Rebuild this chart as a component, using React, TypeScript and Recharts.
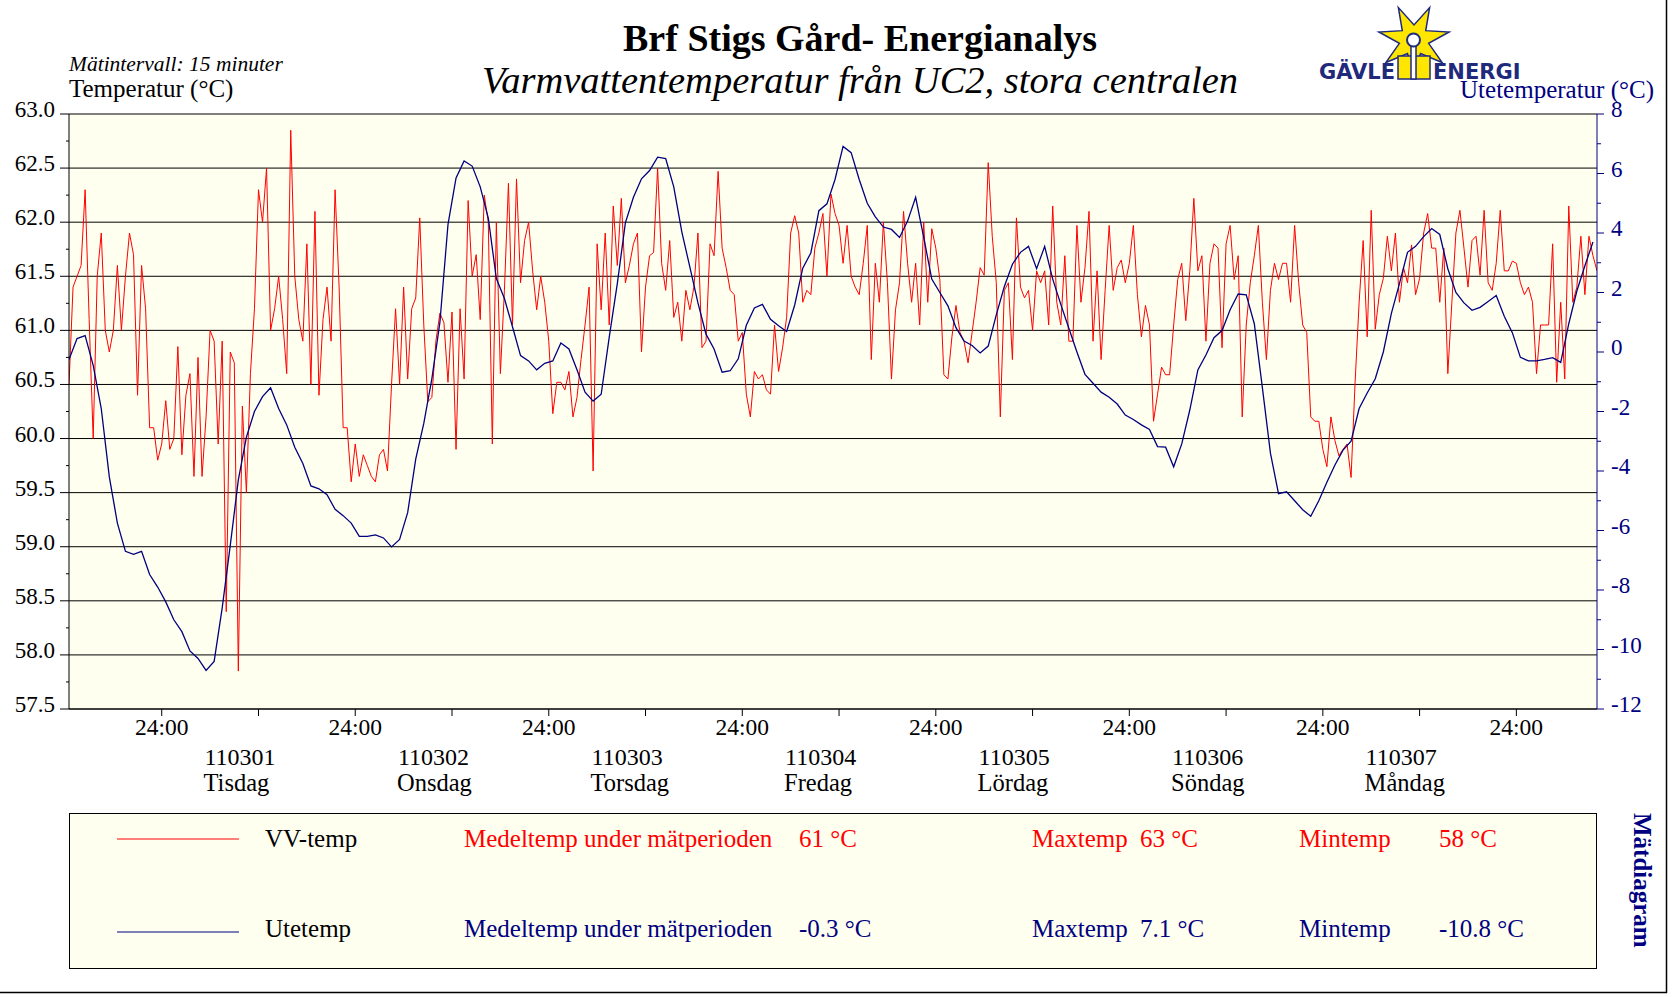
import { LineChart, Line, XAxis, YAxis, CartesianGrid, ReferenceLine } from 'recharts'

const SERIF = "'Liberation Serif', 'Times New Roman', serif"
const NAVY = '#000080'
const RED = '#ff0000'
const BG = '#fffff0'
const LOGO_BLUE = '#1f2a7c'

// time in hours from 110301 00:00
const vvStart = -11.5
const vvStep = 0.5
// VV-temp (°C), one value per half hour
const vvTemp = [
  60.5, 61.4, 61.5, 61.6, 62.3, 61.1, 60.0, 61.5, 61.9, 61.0,
  60.8, 61.0, 61.6, 61.0, 61.5, 61.9, 61.7, 60.4, 61.6, 61.2,
  60.1, 60.1, 59.8, 59.95, 60.35, 59.9, 60.0, 60.85, 59.85, 60.4,
  60.6, 59.65, 60.75, 59.65, 60.2, 61.0, 60.9, 59.95, 60.9, 58.4,
  60.8, 60.7, 57.85, 60.3, 59.5, 60.6, 61.2, 62.3, 62.0, 62.5,
  61.0, 61.2, 61.5, 61.1, 60.6, 62.85, 61.5, 61.1, 60.9, 61.8,
  60.5, 62.1, 60.4, 61.1, 61.4, 60.9, 62.3, 61.4, 60.1, 60.1,
  59.6, 59.95, 59.65, 59.85, 59.75, 59.65, 59.6, 59.85, 59.9, 59.7,
  60.5, 61.2, 60.5, 61.4, 60.55, 61.2, 61.3, 62.04, 61.05, 60.34,
  60.38, 60.9, 61.16, 61.07, 60.52, 61.17, 59.9, 61.2, 60.55, 62.2,
  61.5, 61.7, 61.1, 62.25, 62.0, 59.95, 62.0, 60.6, 61.37, 62.36,
  61.05, 62.4, 61.44, 61.83, 62.0, 61.55, 61.19, 61.5, 61.26, 60.9,
  60.23, 60.52, 60.52, 60.45, 60.62, 60.2, 60.38, 60.73, 61.05, 61.4,
  59.7, 61.8, 61.19, 61.9, 61.05, 62.15, 61.6, 62.22, 61.44, 61.6,
  61.8, 61.9, 60.8, 61.4, 61.69, 61.72, 62.5, 61.62, 61.37, 61.83,
  61.12, 61.26, 60.9, 61.37, 61.19, 61.4, 61.9, 60.84, 60.9, 61.8,
  61.69, 62.47, 61.76, 61.58, 61.37, 61.33, 60.9, 60.98, 60.41, 60.2,
  60.62, 60.55, 60.59, 60.45, 60.41, 61.05, 60.62, 60.84, 61.12, 61.9,
  62.06, 61.9, 61.26, 61.37, 61.33, 61.76, 61.9, 62.08, 61.5, 62.26,
  62.08, 61.97, 61.62, 61.97, 61.5, 61.4, 61.33, 61.62, 61.97, 60.73,
  61.62, 61.26, 62.0, 61.44, 60.55, 61.19, 61.44, 62.1, 61.62, 61.26,
  61.62, 61.05, 62.0, 61.26, 61.94, 61.76, 61.47, 60.59, 60.55, 60.94,
  61.23, 60.98, 60.9, 60.7, 60.98, 61.26, 61.58, 61.51, 62.55, 61.87,
  61.44, 60.2, 61.37, 61.44, 60.73, 62.04, 61.4, 61.3, 61.37, 61.0,
  61.55, 61.44, 61.55, 61.05, 62.15, 61.26, 61.05, 61.69, 60.9, 60.9,
  61.97, 61.26, 61.58, 62.1, 60.9, 61.55, 60.73, 61.37, 61.97, 61.37,
  61.58, 61.65, 61.44, 61.62, 61.97, 61.33, 60.94, 61.23, 61.05, 60.16,
  60.41, 60.66, 60.59, 60.59, 61.05, 61.47, 61.62, 61.09, 61.55, 62.22,
  61.55, 61.69, 60.9, 61.62, 61.8, 61.76, 60.84, 61.8, 61.97, 61.47,
  61.69, 60.2, 61.05, 61.44, 61.69, 61.97, 61.26, 60.73, 61.37, 61.62,
  61.47, 61.62, 61.62, 61.26, 61.97, 61.44, 61.05, 60.98, 60.2, 60.16,
  60.16, 59.9, 59.74, 60.2, 59.98, 59.84, 59.9, 59.95, 59.64, 60.52,
  61.26, 61.83, 60.94, 62.11, 61.01, 61.33, 61.48, 61.87, 61.55, 61.9,
  61.26, 61.58, 61.44, 61.79, 61.33, 61.48, 61.9, 62.08, 61.76, 61.76,
  61.26, 61.76, 60.6, 61.26, 61.9, 62.11, 61.76, 61.4, 61.83, 61.87,
  61.51, 62.11, 61.44, 61.37, 61.62, 62.11, 61.55, 61.55, 61.64, 61.62,
  61.44, 61.33, 61.4, 61.26, 60.6, 61.05, 61.05, 61.05, 61.8, 60.52,
  61.26, 60.55, 62.15, 61.26, 61.4, 61.87, 61.33, 61.87, 61.69, 61.55,
]

const uteStart = -11.5
const uteStep = 1
// Utetemp (°C), one value per hour
const uteTemp = [
  -0.25, 0.45, 0.55, -0.45, -1.9, -4.2, -5.75, -6.7, -6.8, -6.7,
  -7.48, -7.9, -8.4, -9.0, -9.4, -10.05, -10.3, -10.7, -10.4, -8.6,
  -6.5, -4.3, -2.86, -2.0, -1.5, -1.2, -1.9, -2.45, -3.2, -3.75,
  -4.5, -4.6, -4.8, -5.29, -5.5, -5.75, -6.2, -6.2, -6.15, -6.25,
  -6.55, -6.3, -5.4, -3.6, -2.4, -0.9, 1.0, 4.28, 5.85, 6.42,
  6.25, 5.55, 4.5, 2.47, 1.8, 0.85, -0.12, -0.3, -0.6, -0.38,
  -0.3, 0.3, 0.1, -0.6, -1.35, -1.65, -1.42, 0.5, 2.3, 4.34,
  5.2, 5.82, 6.1, 6.55, 6.5, 5.55, 4.04, 2.85, 1.65, 0.6,
  0.1, -0.68, -0.63, -0.23, 0.9, 1.48, 1.6, 1.1, 0.88, 0.69,
  1.58, 2.82, 3.33, 4.75, 4.98, 5.8, 6.91, 6.7, 5.8, 5.0,
  4.54, 4.2, 4.12, 3.85, 4.4, 5.2, 3.85, 2.45, 2.0, 1.55,
  0.82, 0.37, 0.22, -0.03, 0.2, 1.25, 2.2, 2.95, 3.35, 3.55,
  2.8, 3.55, 2.45, 1.6, 0.8, 0.0, -0.75, -1.05, -1.35, -1.52,
  -1.75, -2.12, -2.27, -2.45, -2.6, -3.18, -3.2, -3.86, -3.09, -1.95,
  -0.6, -0.1, 0.48, 0.72, 1.42, 1.95, 1.92, 0.95, -1.2, -3.4,
  -4.76, -4.7, -5.0, -5.3, -5.52, -5.0, -4.38, -3.8, -3.3, -3.0,
  -1.9, -1.38, -0.9, 0.0, 1.3, 2.3, 3.35, 3.55, 3.88, 4.15,
  3.95, 2.8, 2.0, 1.65, 1.4, 1.5, 1.7, 1.9, 1.2, 0.65,
  -0.18, -0.3, -0.3, -0.25, -0.19, -0.35, 0.95, 2.05, 2.9, 3.7,
]

const dayDates = ['110301', '110302', '110303', '110304', '110305', '110306', '110307']
const dayNames = ['Tisdag', 'Onsdag', 'Torsdag', 'Fredag', 'Lördag', 'Söndag', 'Måndag']

const seriesNames = ['VV-temp', 'Utetemp']
const seriesColors = [RED, NAVY]
const meanTemps = ['61', '-0.3']
const maxTemps = ['63', '7.1']
const minTemps = ['58', '-10.8']

const vvData = vvTemp.map((v, i) => ({ t: vvStart + i * vvStep, v }))
const uteData = uteTemp.map((v, i) => ({ t: uteStart + i * uteStep, v }))

const leftTicks = Array.from({ length: 23 }, (_, i) => 57.5 + i * 0.25)
const gridValues = leftTicks.filter((_, i) => i % 2 === 0)
const rightTicks = Array.from({ length: 21 }, (_, i) => -12 + i)
const xTicks = [...dayDates.flatMap((_, i) => [i * 24, i * 24 + 12]), 168]

const LeftTick = (props: any) => {
  const { x, y, payload } = props
  const major = Math.round(payload.value * 4) % 2 === 0
  return (
    <g>
      <line x1={x - (major ? 9 : 3)} x2={x} y1={y} y2={y} stroke="#000" />
      {major && (
        <text x={x - 14} y={y + 3} textAnchor="end" fontSize={23} fontFamily={SERIF} fill="#000">
          {payload.value.toFixed(1)}
        </text>
      )}
    </g>
  )
}

const RightTick = (props: any) => {
  const { x, y, payload } = props
  const major = payload.value % 2 === 0
  return (
    <g>
      <line x1={x} x2={x + (major ? 7 : 4)} y1={y} y2={y} stroke={NAVY} />
      {major && (
        <text x={x + 14} y={y + 3} textAnchor="start" fontSize={23} fontFamily={SERIF} fill={NAVY}>
          {payload.value}
        </text>
      )}
    </g>
  )
}

const TimeTick = (props: any) => {
  const { x, y, payload } = props
  const h = payload.value
  const day = Math.floor(h / 24)
  const noon = h % 24 === 12
  return (
    <g>
      <line x1={x} x2={x} y1={y} y2={y + 7} stroke="#000" />
      {!noon && (
        <text x={x} y={y + 26} textAnchor="middle" fontSize={23.5} fontFamily={SERIF} fill="#000">24:00</text>
      )}
      {noon && (
        <text x={x - 54} y={y + 56} textAnchor="start" fontSize={24} fontFamily={SERIF} fill="#000">
          {dayDates[day]}
        </text>
      )}
      {noon && (
        <text x={x - 55} y={y + 82} textAnchor="start" fontSize={24.5} fontFamily={SERIF} fill="#000">
          {dayNames[day]}
        </text>
      )}
    </g>
  )
}

// GÄVLE ENERGI logo star
const starCx = 1414
const starCy = 40
const starPts = Array.from({ length: 14 }, (_, i) => {
  const a = Math.PI / 2 + (i * Math.PI) / 7
  const r = i % 2 === 0 ? 36 : 15
  return `${starCx + r * Math.cos(a)},${starCy + r * Math.sin(a)}`
}).join(' ')

export default function App() {
  return (
    <div style={{ position: 'absolute', left: 0, top: 0, width: 1673, height: 997, background: '#fff', overflow: 'hidden' }}>
      <div style={{ position: 'absolute', left: 0, top: 0 }}>
        <LineChart width={1673} height={997} margin={{ top: 114, right: 0, bottom: 198, left: 0 }}>
          <CartesianGrid fill={BG} horizontal={false} vertical={false} yAxisId="left" />
          <XAxis
            dataKey="t"
            type="number"
            domain={[-11.5, 178]}
            allowDataOverflow
            ticks={xTicks}
            interval={0}
            height={90}
            tickSize={0}
            tickMargin={0}
            tickLine={false}
            axisLine={{ stroke: '#000' }}
            tick={<TimeTick />}
          />
          <YAxis
            yAxisId="left"
            orientation="left"
            domain={[57.5, 63]}
            allowDataOverflow
            ticks={leftTicks}
            interval={0}
            width={69}
            tickSize={0}
            tickMargin={0}
            tickLine={false}
            axisLine={{ stroke: '#000' }}
            tick={<LeftTick />}
          />
          <YAxis
            yAxisId="right"
            orientation="right"
            domain={[-12, 8]}
            allowDataOverflow
            ticks={rightTicks}
            interval={0}
            width={76}
            tickSize={0}
            tickMargin={0}
            tickLine={false}
            axisLine={{ stroke: NAVY }}
            tick={<RightTick />}
          />
          {gridValues.map((g) => (
            <ReferenceLine key={g} yAxisId="left" y={g} stroke="#000" strokeWidth={1} />
          ))}
          <Line
            data={vvData}
            yAxisId="left"
            dataKey="v"
            type="linear"
            stroke={RED}
            strokeWidth={1}
            dot={false}
            activeDot={false}
            isAnimationActive={false}
          />
          <Line
            data={uteData}
            yAxisId="right"
            dataKey="v"
            type="linear"
            stroke={NAVY}
            strokeWidth={1.3}
            dot={false}
            activeDot={false}
            isAnimationActive={false}
          />
        </LineChart>
      </div>

      <svg width={1673} height={997} style={{ position: 'absolute', left: 0, top: 0, pointerEvents: 'none' }}>
        <text x={860} y={51} textAnchor="middle" fontSize={38} fontWeight="bold" fontFamily={SERIF}>
          Brf Stigs Gård- Energianalys
        </text>
        <text x={860} y={93} textAnchor="middle" fontSize={38.5} fontStyle="italic" fontFamily={SERIF}>
          Varmvattentemperatur från UC2, stora centralen
        </text>
        <text x={69} y={71} fontSize={21.5} fontStyle="italic" fontFamily={SERIF}>Mätintervall: 15 minuter</text>
        <text x={69} y={97} fontSize={25} fontFamily={SERIF}>Temperatur (°C)</text>
        <text x={1654} y={98} textAnchor="end" fontSize={25} fontFamily={SERIF} fill={NAVY}>Utetemperatur (°C)</text>

        {/* logo */}
        <polygon points={starPts} fill="#ffe600" stroke={LOGO_BLUE} strokeWidth={1.5} />
        <rect x={1398} y={56} width={32} height={23} fill="#ffe600" stroke={LOGO_BLUE} strokeWidth={1.5} />
        <rect x={1411} y={44} width={5} height={35} fill="#fff" stroke={LOGO_BLUE} strokeWidth={1.5} />
        <circle cx={1413.5} cy={40} r={6.5} fill="#fff" stroke={LOGO_BLUE} strokeWidth={2} />
        <text x={1395} y={79} textAnchor="end" fontSize={21} fontWeight="bold" fontFamily="'DejaVu Sans', sans-serif" fill={LOGO_BLUE}>GÄVLE</text>
        <text x={1433} y={79} fontSize={21} fontWeight="bold" fontFamily="'DejaVu Sans', sans-serif" fill={LOGO_BLUE}>ENERGI</text>

        {/* legend */}
        <rect x={69.5} y={813.5} width={1527} height={155} fill={BG} stroke="#000" strokeWidth={1} />
        {seriesNames.map((name, i) => {
          const ly = i === 0 ? 839 : 932
          const ty = i === 0 ? 847 : 937
          const c = seriesColors[i]
          return (
            <g key={name} fontFamily={SERIF} fontSize={25} style={{ whiteSpace: 'pre' }}>
              <line x1={117} x2={239} y1={ly} y2={ly} stroke={c} strokeWidth={1} />
              <text x={265} y={ty} fill="#000">{name}</text>
              <text x={464} y={ty} fill={c}>Medeltemp under mätperioden</text>
              <text x={799} y={ty} fill={c}>{`${meanTemps[i]}  °C`}</text>
              <text x={1032} y={ty} fill={c}>Maxtemp</text>
              <text x={1140} y={ty} fill={c}>{`${maxTemps[i]}  °C`}</text>
              <text x={1299} y={ty} fill={c}>Mintemp</text>
              <text x={1439} y={ty} fill={c}>{`${minTemps[i]} °C`}</text>
            </g>
          )
        })}
        <text x={1634} y={813} transform="rotate(90 1634 813)" fontSize={25} fontWeight="bold" fontFamily={SERIF} fill={NAVY}>
          Mätdiagram
        </text>

        {/* frame */}
        <line x1={1666.5} x2={1666.5} y1={0} y2={993} stroke="#000" strokeWidth={1.5} />
        <line x1={0} x2={1667} y1={992.5} y2={992.5} stroke="#000" strokeWidth={1.5} />
      </svg>
    </div>
  )
}
